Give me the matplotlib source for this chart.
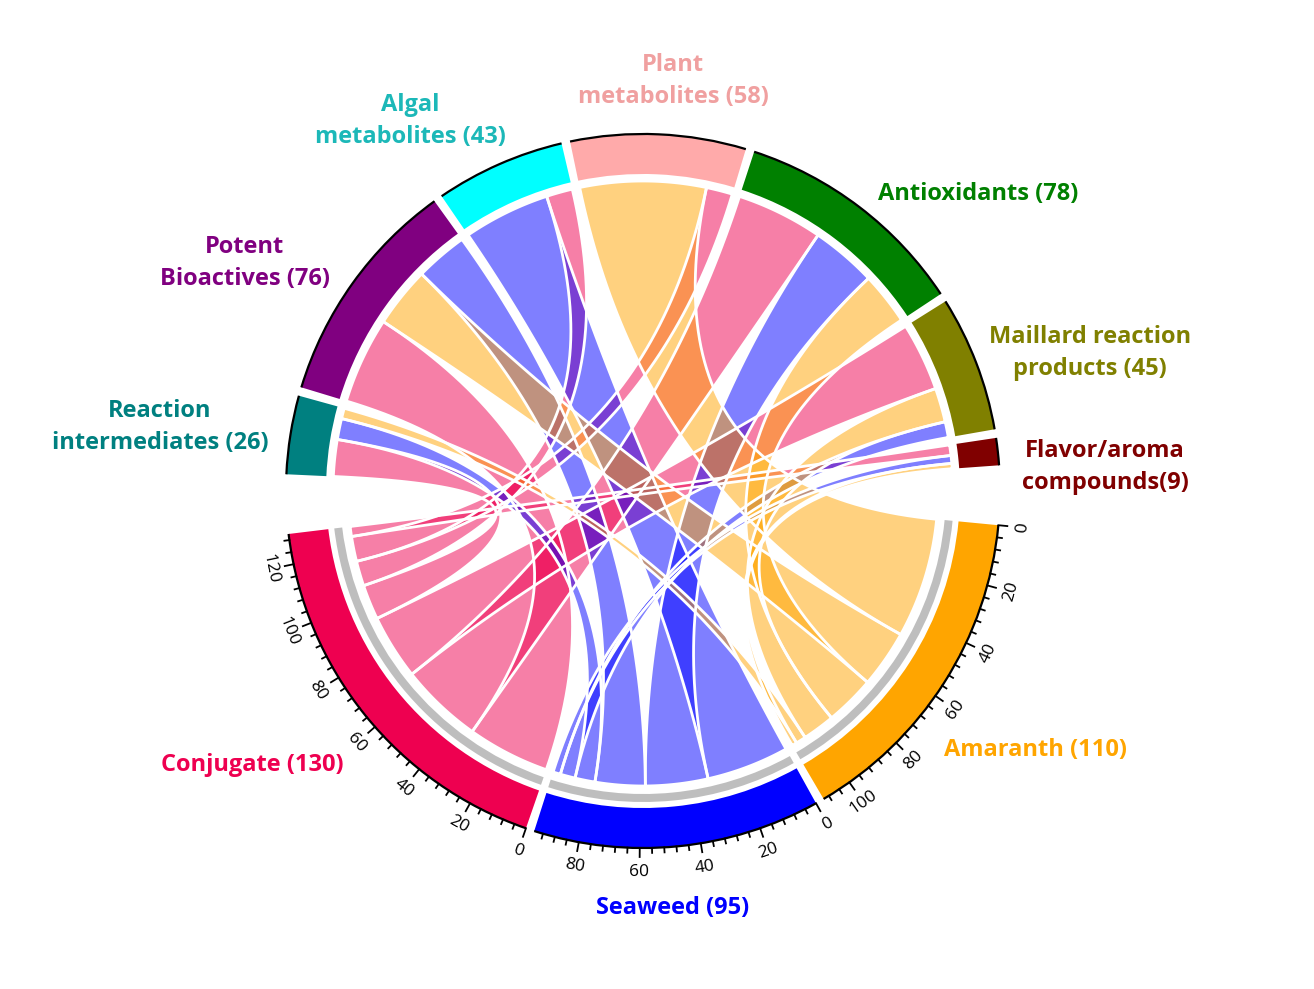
import numpy as np
import matplotlib.pyplot as plt
from matplotlib.patches import Wedge, Arc, Polygon

# ---- data -------------------------------------------------------------
sources = ['Conjugate', 'Seaweed', 'Amaranth']
targets = ['Reaction intermediates', 'Potent Bioactives', 'Algal metabolites',
           'Plant metabolites', 'Antioxidants', 'Maillard reaction products',
           'Flavor/aroma compounds']

# links from each source to the targets (same order as targets)
conjugate = [14, 33, 10, 10, 33, 26, 4]
seaweed = [8, 20, 33, 0, 25, 6, 3]
amaranth = [4, 23, 0, 48, 20, 13, 2]

labels = ['Conjugate (130)', 'Seaweed (95)', 'Amaranth (110)',
          'Reaction\nintermediates (26)', 'Potent\nBioactives (76)',
          'Algal\nmetabolites (43)', 'Plant\nmetabolites (58)',
          'Antioxidants (78)', 'Maillard reaction\nproducts (45)',
          'Flavor/aroma\ncompounds(9)']

# ---- styling ----------------------------------------------------------
sector_col = {'Conjugate': '#EE0050', 'Seaweed': '#0000FF', 'Amaranth': '#FFA500',
              'Reaction intermediates': '#008080', 'Potent Bioactives': '#800080',
              'Algal metabolites': '#00FFFF', 'Plant metabolites': '#FFAAAA',
              'Antioxidants': '#008000', 'Maillard reaction products': '#808000',
              'Flavor/aroma compounds': '#800000'}
text_col = dict(sector_col)
text_col['Algal metabolites'] = '#1CB8B8'
text_col['Plant metabolites'] = '#F0A0A0'

# label centres in pixel coords of the 1314x989 canvas
label_px = [(252, 765), (673, 908), (1035, 750), (160, 427), (245, 263),
            (410, 121), (673, 81), (978, 194), (1090, 353), (1105, 467)]

CX, CY = 643, 491          # circle centre in pixels
R_OUT, TRACK_W = 357, 40
R_GREY, GREY_W = 311, 8
R_SRC, R_TGT = 295, 310
UNIT = 0.4919              # degrees per unit
SMALL_GAP, BIG_GAP = 1.4, 9.6
START = 354.5

flows = {'Conjugate': conjugate, 'Seaweed': seaweed, 'Amaranth': amaranth}
sizes = {s: sum(v) for s, v in flows.items()}
for j, t in enumerate(targets):
    sizes[t] = sum(flows[s][j] for s in sources)

order = ['Amaranth', 'Seaweed', 'Conjugate'] + targets
span = {}
ang = START
for name in order:
    a1 = ang - sizes[name] * UNIT
    span[name] = (ang, a1)
    ang = a1 - (BIG_GAP if name in ('Conjugate', targets[-1]) else SMALL_GAP)

plt.rcParams['font.family'] = ['Open Sans', 'DejaVu Sans']
fig = plt.figure(figsize=(13.14, 9.89), dpi=100)
ax = fig.add_axes([0, 0, 1, 1])
ax.set_xlim(-CX, 1314 - CX)
ax.set_ylim(CY - 989, CY)
ax.set_aspect('equal')
ax.axis('off')


def pol(a, r):
    t = np.radians(a)
    return np.array([r * np.cos(t), r * np.sin(t)])


def arc_pts(a0, a1, r, n=40):
    t = np.radians(np.linspace(a0, a1, n))
    return np.column_stack([r * np.cos(t), r * np.sin(t)])


def bez(p0, p2, n=60):
    t = np.linspace(0, 1, n)[:, None]
    return (1 - t) ** 2 * p0 + t ** 2 * p2   # control point at the centre


# ---- link positions (sorted by width, largest first) -------------------
src_pos = {}
for s in sources:
    vals = flows[s]
    a = span[s][0]
    for j in sorted(range(len(targets)), key=lambda k: -vals[k]):
        if vals[j] == 0:
            continue
        src_pos[(s, j)] = (a, a - vals[j] * UNIT)
        a -= vals[j] * UNIT

tgt_pos = {}
for j, t in enumerate(targets):
    a = span[t][0]
    for s in sorted(sources, key=lambda k: -flows[k][j]):
        v = flows[s][j]
        if v == 0:
            continue
        tgt_pos[(s, j)] = (a, a - v * UNIT)
        a -= v * UNIT

# ---- links -------------------------------------------------------------
for s in sources:
    for j in range(len(targets)):
        if (s, j) not in src_pos:
            continue
        s1, s2 = src_pos[(s, j)]
        t1, t2 = tgt_pos[(s, j)]
        pts = np.vstack([arc_pts(s1, s2, R_SRC),
                         bez(pol(s2, R_SRC), pol(t1, R_TGT)),
                         arc_pts(t1, t2, R_TGT),
                         bez(pol(t2, R_TGT), pol(s1, R_SRC))])
        ax.add_patch(Polygon(pts, closed=True, facecolor=sector_col[s], alpha=0.5,
                             edgecolor='none', zorder=2))
        ax.add_patch(Polygon(pts, closed=True, facecolor='none', edgecolor='white',
                             lw=2.0, zorder=3))

# ---- sector tracks -----------------------------------------------------
for name in order:
    a0, a1 = span[name]
    ax.add_patch(Wedge((0, 0), R_OUT, a1, a0, width=TRACK_W,
                       facecolor=sector_col[name], edgecolor='none', zorder=4))
    ax.add_patch(Arc((0, 0), 2 * R_OUT, 2 * R_OUT, theta1=a1, theta2=a0,
                     color='black', lw=1.6, zorder=5))

# grey ring + axis ticks on source sectors
for s in sources:
    a0, a1 = span[s]
    ax.add_patch(Wedge((0, 0), R_GREY, a1, a0, width=GREY_W,
                       facecolor='#BEBEBE', edgecolor='none', zorder=4))
    for v in range(0, sizes[s] + 1, 4):
        a = a0 - v * UNIT
        ln = 9 if v % 20 == 0 else 5
        p, q = pol(a, R_OUT), pol(a, R_OUT + ln)
        ax.plot([p[0], q[0]], [p[1], q[1]], color='black', lw=1.3, zorder=5)
        if v % 20 == 0:
            lp = pol(a, R_OUT + 24)
            ax.text(lp[0], lp[1], str(v), rotation=(a + 90) % 360, ha='center',
                    va='center', fontsize=12.5, rotation_mode='anchor')

# ---- labels ------------------------------------------------------------
for name, lab, (px, py) in zip(sources + targets, labels, label_px):
    ax.text(px - CX, CY - py, lab, color=text_col[name], fontsize=17,
            fontweight='bold', ha='center', va='center', linespacing=1.45)

fig.savefig('out.png', dpi=100)
